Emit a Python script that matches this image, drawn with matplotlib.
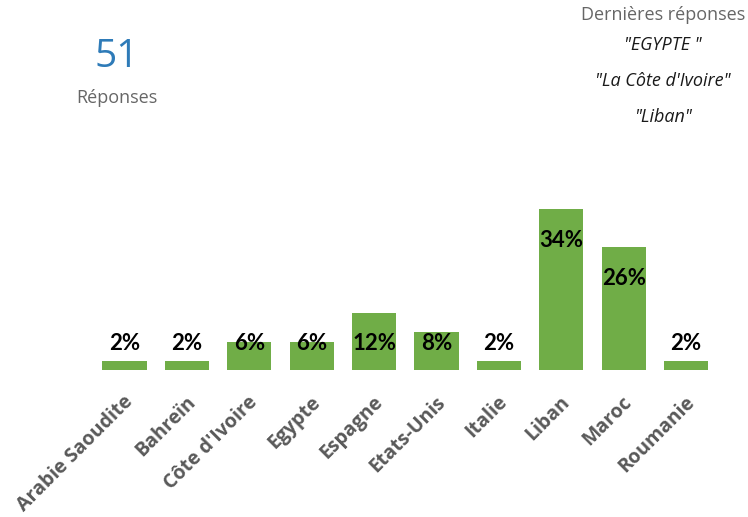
import matplotlib
matplotlib.use("Agg")
import matplotlib.pyplot as plt

countries = ["Arabie Saoudite", "Bahreïn", "Côte d'Ivoire", "Egypte", "Espagne",
             "Etats-Unis", "Italie", "Liban", "Maroc", "Roumanie"]
percents = [2, 2, 6, 6, 12, 8, 2, 34, 26, 2]
total_responses = "51"
latest_title = "Dernières réponses"
latest_responses = ['"EGYPTE "', '"La Côte d\'Ivoire"', '"Liban"']

W, H = 748, 517
fig = plt.figure(figsize=(W / 100, H / 100), dpi=100)
fig.patch.set_facecolor("white")

left_px, right_px = 93.3, 717.3
base_px, top_px = 370, 200
ax = fig.add_axes([left_px / W, (H - base_px) / H, (right_px - left_px) / W, (base_px - top_px) / H])
ax.set_xlim(-0.5, len(countries) - 0.5)
ax.set_ylim(0, 36)
ax.axis("off")

x = list(range(len(countries)))
ax.bar(x, percents, width=0.71, color="#70AD47", zorder=3)

for xi, v in zip(x, percents):
    ylab = max(v - 6.6, 5.7)
    ax.text(xi, ylab, f"{v}%", ha="center", va="center", fontsize=16,
            fontweight="bold", family=["Lato", "DejaVu Sans"], color="black", zorder=5)

for xi, name in zip(x, countries):
    ax.annotate(name, xy=(xi, 0), xycoords="data", xytext=(4, -21), textcoords="offset points",
                rotation=45, rotation_mode="anchor", ha="right", va="center",
                fontsize=14, fontweight="bold", family=["Open Sans", "DejaVu Sans"],
                color="#595959", annotation_clip=False)

fig.text(117 / W, 1 - 57 / H, total_responses, ha="center", va="center", fontsize=28,
         color="#2E7BB8", family=["Open Sans", "DejaVu Sans"])
fig.text(117 / W, 1 - 98 / H, "Réponses", ha="center", va="center", fontsize=13,
         color="#666666", family=["Open Sans", "DejaVu Sans"])
fig.text(663 / W, 1 - 15 / H, latest_title, ha="center", va="center", fontsize=13,
         color="#666666", family=["Open Sans", "DejaVu Sans"])
for i, r in enumerate(latest_responses):
    fig.text(663 / W, 1 - (45 + 36 * i) / H, r, ha="center", va="center", fontsize=13,
             style="italic", color="#1a1a1a", family=["Open Sans", "DejaVu Sans"])

fig.savefig("out.png", dpi=100, facecolor="white")
